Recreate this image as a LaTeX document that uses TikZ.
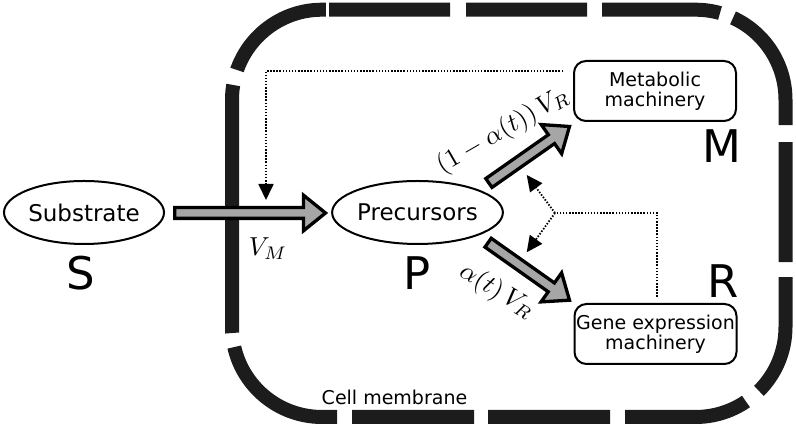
\documentclass[tikz,border=0pt]{standalone}
\usepackage{fontspec}
\setmainfont{DejaVu Sans}
\usetikzlibrary{calc,arrows.meta,shapes.geometric}
\definecolor{arrowgray}{RGB}{166,166,166}
\definecolor{membranecol}{RGB}{28,28,28}
\newcommand{\blockarr}[2]{%
  \draw[blockarrow] let \p1=($(#2)-(#1)$), \n1={atan2(\y1,\x1)}, \n2={veclen(\x1,\y1)-22} in
    ($(#1)+({\n1+90}:5.4)$) -- ($(#1)+({\n1+90}:5.4)+(\n1:\n2)$)
    -- ($(#1)+({\n1+90}:17.8)+(\n1:\n2)$) -- (#2)
    -- ($(#1)+({\n1-90}:17.8)+(\n1:\n2)$) -- ($(#1)+({\n1-90}:5.4)+(\n1:\n2)$)
    -- ($(#1)+({\n1-90}:5.4)$) -- cycle;}
\newcommand{\bigmath}[1]{\scalebox{2.6}{$#1$}}
\begin{document}
\begin{tikzpicture}[x=1pt,y=1pt,
  ell/.style={ellipse, draw, line width=2pt, inner sep=0pt, minimum width=160pt, minimum height=63pt, font=\fontsize{23}{25}\selectfont},
  mbox/.style={rectangle, rounded corners=12pt, draw, line width=2pt, minimum width=162pt, minimum height=60pt, inner sep=0pt, align=center, font=\fontsize{19}{20}\selectfont},
  big/.style={inner sep=0pt, font=\fontsize{45}{50}\selectfont},
  blockarrow/.style={draw=black, fill=arrowgray, line width=3.3pt, line join=miter},
  dotline/.style={line width=1.8pt, dash pattern=on 1.5pt off 1.6pt},
  dotarrow/.style={dotline, -{Triangle[length=16pt,width=15pt]}},
  mathlab/.style={inner sep=0pt}]
\useasboundingbox (0,0) rectangle (796,427);
% cell membrane
\draw[draw=membranecol, line width=14pt, dash pattern=on 121pt off 16pt on 121pt off 15pt on 118.3pt off 13.9pt on 128pt off 17pt on 120pt off 15pt on 121pt off 16.8pt on 124pt off 15pt on 122pt off 14pt on 122pt off 15pt on 136.2pt off 14.2pt on 248.1pt off 15.5pt on 115.1pt off 20pt]
  (329,417.3) -- (695.5,417.3) arc[start angle=90,end angle=0,radius=90]
  -- (785.5,100) arc[start angle=0,end angle=-90,radius=90]
  -- (322,10) arc[start angle=270,end angle=180,radius=90]
  -- (232,327.3) arc[start angle=180,end angle=90,radius=90] -- (329,417.3);
% nodes
\node[ell] (sub) at (84,214.5) {Substrate};
\node[ell] (pre) at (417.5,214.5) {Precursors};
\node[mbox] (met) at (655,336) {Metabolic\\machinery};
\node[mbox] (gene) at (655.5,93) {Gene expression\\machinery};
\node[big] (S) at (81,153.5) {S};
\node[big] (P) at (417,153.5) {P};
\node[big] (M) at (721.5,281) {M};
\node[big] (R) at (723,146) {R};
\node[font=\fontsize{19}{20}\selectfont, anchor=base, inner sep=0pt] (cm) at (394.5,22) {Cell membrane};
\node[mathlab] (vm) at (268,178.5) {\bigmath{V_M}};
\node[mathlab, rotate=30] (l1) at (503,296) {\bigmath{(1-\alpha(t))\,V_R}};
\node[mathlab, rotate=-31] (l2) at (497,135.5) {\bigmath{\alpha(t)\,V_R}};
% arrow end points
\coordinate (a1s) at (174.7,214);
\coordinate (a1e) at (325.5,214);
\coordinate (a2s) at (488.9,244);
\coordinate (a2e) at (569.5,300.5);
\coordinate (a3s) at (488.1,184.3);
\coordinate (a3e) at (569.5,126.8);
\blockarr{a1s}{a1e}
\blockarr{a2s}{a2e}
\blockarr{a3s}{a3e}
% dotted regulation
\coordinate (d1s) at (563,356);
\coordinate (d1e) at (266,227);
\coordinate (d2s) at (657,130);
\coordinate (br) at (555,214);
\coordinate (tu) at (526.7,252);
\coordinate (td) at (526.7,174.7);
\draw[dotarrow] (d1s) -| (d1e);
\draw[dotline] (d2s) |- (br);
\draw[dotarrow] (br) -- (tu);
\draw[dotarrow] (br) -- (td);
\end{tikzpicture}
\end{document}
